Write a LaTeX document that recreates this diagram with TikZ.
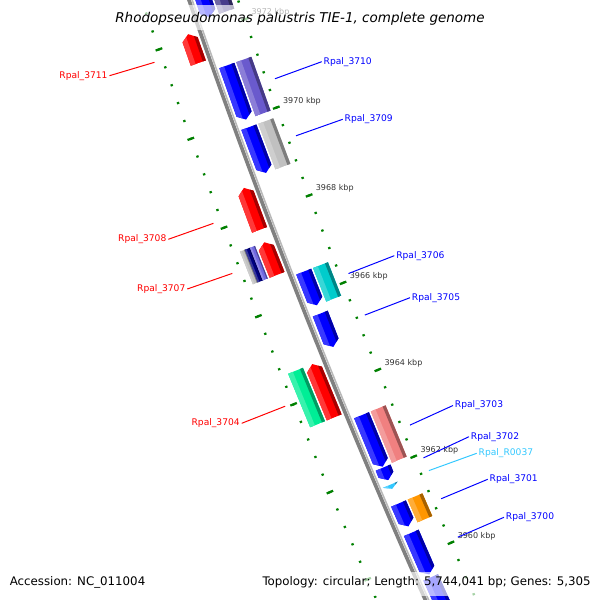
\documentclass[tikz,border=0pt]{standalone}
\usepackage{fontspec}
\setmainfont{DejaVu Sans}

\definecolor{fwdred}{RGB}{255,0,0}
\definecolor{revblue}{RGB}{0,0,255}
\definecolor{trnacyan}{RGB}{51,200,255}
\definecolor{cogslate}{RGB}{106,90,205}
\definecolor{cogdark}{RGB}{72,61,139}
\definecolor{cogsilver}{RGB}{192,192,192}
\definecolor{cogcyan}{RGB}{0,204,204}
\definecolor{cogpink}{RGB}{240,128,128}
\definecolor{cogorange}{RGB}{255,150,0}
\definecolor{coggreen}{RGB}{0,238,150}
\definecolor{cognavy}{RGB}{0,0,128}
\definecolor{cogviolet}{RGB}{112,104,224}
\definecolor{tickgreen}{RGB}{0,128,0}
\definecolor{ticktext}{RGB}{51,51,51}
\definecolor{backgray}{RGB}{128,128,128}
\definecolor{backlight}{RGB}{185,185,185}

% angle of a base position (kbp) seen from the centre of the genome circle
\newcommand{\kang}[1]{200.04+(3970-(#1))*0.361}

% feature: from, to (arrow end), inner offset, outer offset, colour, head length (kbp)
\newcommand{\feat}[6]{%
  \pgfmathsetmacro{\fa}{\kang{#1}}%
  \pgfmathsetmacro{\fb}{\kang{#2}}%
  \pgfmathsetmacro{\fd}{#2-(#1)}%
  \pgfmathsetmacro{\fh}{abs(\fd)<#6 ? \fd : (\fd>0 ? #6 : -#6)}%
  \pgfmathsetmacro{\fc}{\kang{#2-(\fh)}}%
  \pgfmathsetmacro{\ri}{7489+(#3)}%
  \pgfmathsetmacro{\ro}{7489+(#4)}%
  \pgfmathsetmacro{\rmid}{7489+((#3)+(#4))/2}%
  \pgfmathsetmacro{\rhl}{\ro-0.32*((#4)-(#3))}%
  \pgfmathsetmacro{\rsh}{\ri+0.2*((#4)-(#3))}%
  \begin{scope}
    \clip ({\fa}:{\ri}) -- ({\fa}:{\ro}) -- ({\fc}:{\ro}) -- ({\fb}:{\rmid}) -- ({\fc}:{\ri}) -- cycle;
    \fill[#5] ({\fa}:{\ri-1}) -- ({\fa}:{\ro+1}) -- ({\fb}:{\ro+1}) -- ({\fb}:{\ri-1}) -- cycle;
    \fill[#5!78!white] ({\fa}:{\rhl}) -- ({\fa}:{\ro+1}) -- ({\fb}:{\ro+1}) -- ({\fb}:{\rhl}) -- cycle;
    \fill[#5!65!black] ({\fa}:{\ri-1}) -- ({\fa}:{\rsh}) -- ({\fb}:{\rsh}) -- ({\fb}:{\ri-1}) -- cycle;
  \end{scope}}

\tikzset{
  backbone/.style={draw=backgray, line width=2.6pt},
  backedge/.style={draw=backlight, line width=1.1pt},
  minortick/.style={draw=tickgreen, line width=1.5pt},
  majortick/.style={draw=tickgreen, line width=1.6pt},
  ticklbl/.style={text=ticktext, font=\fontsize{5.7}{6}\selectfont, inner sep=0pt, anchor=west},
  fwdlbl/.style={text=fwdred, font=\fontsize{6.5}{7}\selectfont, inner sep=1.2pt, anchor=east},
  revlbl/.style={text=revblue, font=\fontsize{6.5}{7}\selectfont, inner sep=1.2pt, anchor=west},
  rnalbl/.style={text=trnacyan, font=\fontsize{6.5}{7}\selectfont, inner sep=1.2pt, anchor=west},
  fwdline/.style={draw=fwdred, line width=0.7pt},
  revline/.style={draw=revblue, line width=0.7pt},
  rnaline/.style={draw=trnacyan, line width=0.7pt},
  wash/.style={fill=white, opacity=0.65},
  titletext/.style={font=\fontsize{9.6}{11}\selectfont\itshape, inner sep=0pt},
  foottext/.style={font=\fontsize{8.4}{10}\selectfont, inner sep=0pt}
}

\begin{document}
\begin{tikzpicture}[x=0.025cm, y=0.025cm]
  \useasboundingbox (0,0) rectangle (600,600);
  %\draw [help lines, step=50] (0,0) grid (600,600);
  \begin{scope}[shift={(7269,3043)}]
    \draw[backbone] ({\kang{3975}}:7490) arc[start angle={\kang{3975}}, end angle={\kang{3957}}, radius=187.25cm];
    \draw[backedge] ({\kang{3975}}:7487) arc[start angle={\kang{3975}}, end angle={\kang{3957}}, radius=187.175cm];

    \foreach \i in {-6,...,36} {
      \pgfmathsetmacro{\ta}{\kang{3960+0.4*(\i)}}
      \draw[minortick] ({\ta}:7533.3) -- ({\ta}:7535.7);
      \draw[minortick] ({\ta}:7442.3) -- ({\ta}:7444.7);
    }
    \foreach \k in {3958,3960,...,3974} {
      \pgfmathsetmacro{\ta}{\kang{\k}}
      \draw[majortick] ({\ta}:7531) -- ({\ta}:7538);
      \draw[majortick] ({\ta}:7440) -- ({\ta}:7447);
      \coordinate (tk\k) at ({\ta}:7443.5);
    }
    \foreach \k in {3960,3962,...,3972}
      \node[ticklbl] (kb\k) at ([shift={(6.5,6.7)}]tk\k) {\k{} kbp};

    \feat{3971.45}{3972.10}{5}{21}{fwdred}{0.128}
    \feat{3967.69}{3968.64}{5}{21}{fwdred}{0.128}
    \feat{3966.67}{3967.41}{5}{21}{fwdred}{0.128}
    \feat{3963.42}{3964.64}{5}{21}{fwdred}{0.128}
    \feat{3966.67}{3967.41}{33.67}{39}{cogsilver}{0}
    \feat{3966.67}{3967.41}{28.33}{33.67}{cognavy}{0}
    \feat{3966.67}{3967.41}{23}{28.33}{cogviolet}{0}
    \feat{3963.42}{3964.64}{23}{39}{coggreen}{0}

    \feat{3974.2}{3972.29}{-21}{-5}{revblue}{0.128}
    \feat{3971.20}{3969.98}{-21}{-5}{revblue}{0.128}
    \feat{3969.81}{3968.77}{-21}{-5}{revblue}{0.128}
    \feat{3966.53}{3965.76}{-21}{-5}{revblue}{0.128}
    \feat{3965.57}{3964.81}{-21}{-5}{revblue}{0.128}
    \feat{3963.24}{3962.06}{-21}{-5}{revblue}{0.128}
    \feat{3962.04}{3961.75}{-21}{-5}{revblue}{0.128}
    \feat{3961.645}{3961.55}{-21}{-5}{trnacyan}{0.128}
    \feat{3961.21}{3960.68}{-21}{-5}{revblue}{0.128}
    \feat{3960.53}{3959.57}{-21}{-5}{revblue}{0.128}
    \feat{3959.50}{3957.4}{-21}{-5}{revblue}{0.128}
    \feat{3972.29}{3974.2}{-39}{-23}{cogdark}{0}
    \feat{3969.98}{3971.20}{-39}{-23}{cogslate}{0}
    \feat{3968.77}{3969.81}{-39}{-23}{cogsilver}{0}
    \feat{3965.76}{3966.53}{-39}{-23}{cogcyan}{0}
    \feat{3962.06}{3963.24}{-39}{-23}{cogpink}{0}
    \feat{3960.68}{3961.21}{-39}{-23}{cogorange}{0}

    \coordinate (s3711) at ({\kang{3971.775}}:7543);
    \coordinate (s3710) at ({\kang{3970.59}}:7435);
    \coordinate (s3709) at ({\kang{3969.29}}:7435);
    \coordinate (s3708) at ({\kang{3968.165}}:7543);
    \coordinate (s3707) at ({\kang{3967.04}}:7543);
    \coordinate (s3706) at ({\kang{3966.145}}:7435);
    \coordinate (s3705) at ({\kang{3965.19}}:7435);
    \coordinate (s3704) at ({\kang{3964.03}}:7543);
    \coordinate (s3703) at ({\kang{3962.65}}:7435);
    \coordinate (s3702) at ({\kang{3961.895}}:7435);
    \coordinate (sR0037) at ({\kang{3961.5975}}:7435);
    \coordinate (s3701) at ({\kang{3960.945}}:7435);
    \coordinate (s3700) at ({\kang{3960.05}}:7435);
  \end{scope}

  \node[fwdlbl] (l3711) at (109.5,524.3) {Rpal\_3711};
  \node[revlbl] (l3710) at (321.7,538.3) {Rpal\_3710};
  \node[revlbl] (l3709) at (342.7,480.7) {Rpal\_3709};
  \node[fwdlbl] (l3708) at (168.3,360.7) {Rpal\_3708};
  \node[fwdlbl] (l3707) at (187.3,311) {Rpal\_3707};
  \node[revlbl] (l3706) at (394.3,344.3) {Rpal\_3706};
  \node[revlbl] (l3705) at (410,302.3) {Rpal\_3705};
  \node[fwdlbl] (l3704) at (241.7,176.7) {Rpal\_3704};
  \node[revlbl] (l3703) at (453,194.5) {Rpal\_3703};
  \node[revlbl] (l3702) at (469,163.3) {Rpal\_3702};
  \node[rnalbl] (lR0037) at (476.7,146.7) {Rpal\_R0037};
  \node[revlbl] (l3701) at (487.7,120.7) {Rpal\_3701};
  \node[revlbl] (l3700) at (504,82.7) {Rpal\_3700};

  \draw[fwdline] (s3711) -- (l3711.east);
  \draw[revline] (s3710) -- (l3710.west);
  \draw[revline] (s3709) -- (l3709.west);
  \draw[fwdline] (s3708) -- (l3708.east);
  \draw[fwdline] (s3707) -- (l3707.east);
  \draw[revline] (s3706) -- (l3706.west);
  \draw[revline] (s3705) -- (l3705.west);
  \draw[fwdline] (s3704) -- (l3704.east);
  \draw[revline] (s3703) -- (l3703.west);
  \draw[revline] (s3702) -- (l3702.west);
  \draw[rnaline] (sR0037) -- (lR0037.west);
  \draw[revline] (s3701) -- (l3701.west);
  \draw[revline] (s3700) -- (l3700.west);

  \fill[wash] (0,570) rectangle (600,595);
  \fill[wash] (0,4) rectangle (600,28);
  \node[titletext, anchor=base] (title) at (300,577) {Rhodopseudomonas palustris TIE-1, complete genome};
  \node[foottext, anchor=base west] (acc) at (9.5,15) {Accession: NC\_011004};
  \node[foottext, anchor=base east] (topo) at (591,15) {Topology: circular; Length: 5,744,041 bp; Genes: 5,305};
\end{tikzpicture}
\end{document}
